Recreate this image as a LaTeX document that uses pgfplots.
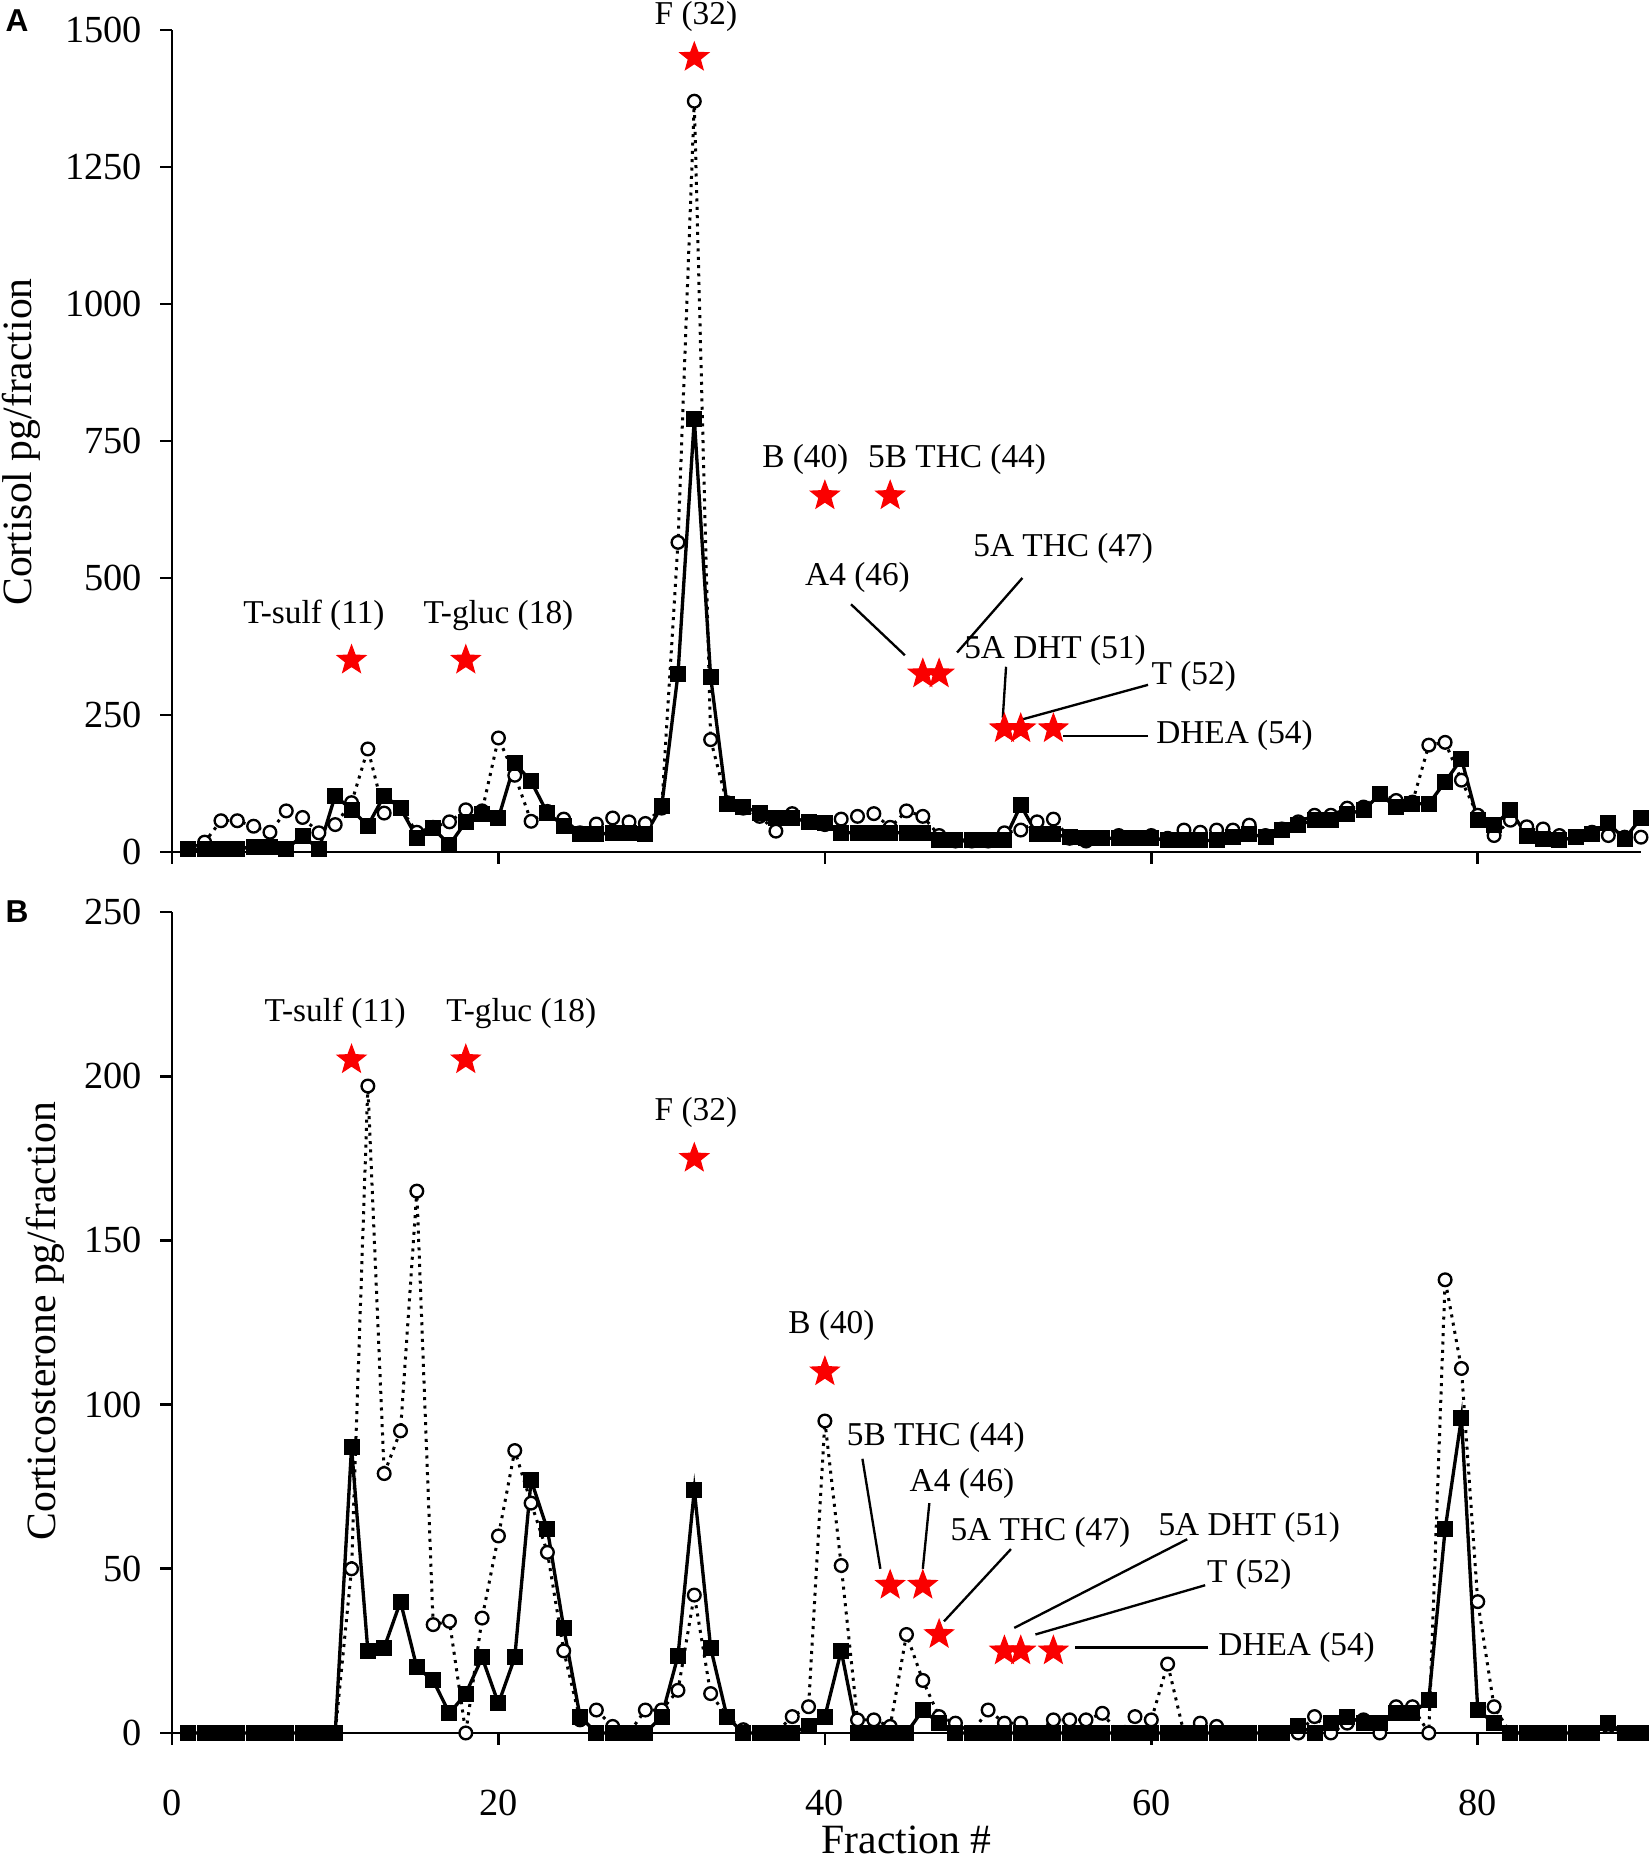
\documentclass[border=0pt]{standalone}
\usepackage{fontspec}
\setmainfont{Liberation Serif}
\newfontfamily\panelfont{Liberation Sans}
\usepackage{pgfplots}
\pgfplotsset{compat=1.18}
\definecolor{starred}{RGB}{250,0,0}
\pgfdeclareplotmark{fstar}{%
 \pgfpathmoveto{\pgfpointpolar{90}{\pgfplotmarksize}}%
 \pgfpathlineto{\pgfpointpolar{126}{0.42\pgfplotmarksize}}%
 \pgfpathlineto{\pgfpointpolar{162}{\pgfplotmarksize}}%
 \pgfpathlineto{\pgfpointpolar{198}{0.42\pgfplotmarksize}}%
 \pgfpathlineto{\pgfpointpolar{234}{\pgfplotmarksize}}%
 \pgfpathlineto{\pgfpointpolar{270}{0.42\pgfplotmarksize}}%
 \pgfpathlineto{\pgfpointpolar{306}{\pgfplotmarksize}}%
 \pgfpathlineto{\pgfpointpolar{342}{0.42\pgfplotmarksize}}%
 \pgfpathlineto{\pgfpointpolar{18}{\pgfplotmarksize}}%
 \pgfpathlineto{\pgfpointpolar{54}{0.42\pgfplotmarksize}}%
 \pgfpathclose
 \pgfusepathqfillstroke
}
\tikzset{lead/.style={black, line width=0.7pt}}
\pgfplotsset{
 panel/.style={scale only axis, width=440.7pt, height=246.6pt,
  xmin=0, xmax=90, ymin=0,
  axis lines*=left, axis line style={line width=0.8pt,-},
  tick align=outside, major tick length=3.5pt,
  tick style={line width=0.8pt, black},
  xtick={0,20,...,80}, clip=false,
  tick label style={font=\fontsize{11.5}{12}\selectfont},
  yticklabel style={xshift=-2pt},
  /pgf/number format/assume math mode=true,
  /pgf/number format/1000 sep={},
  every node/.append style={font=\fontsize{10.5}{12}\selectfont}},
 dotser/.style={black, line width=0.9pt, dash pattern=on 0.9pt off 1.6pt,
  mark=*, mark size=1.9pt, mark options={solid, fill=white, draw=black, line width=0.7pt}},
 solser/.style={black, line width=1.0pt, mark=square*, mark size=1.9pt, mark options={solid}},
 starser/.style={only marks, mark=fstar, mark size=4.4pt, color=starred}
}
\begin{document}
\begin{tikzpicture}
\useasboundingbox (0,0) rectangle (495pt,558.3pt);
% ---------------- Panel A ----------------
\begin{axis}[panel, at={(51.6pt,302.7pt)}, anchor=south west,
  ymax=1500, ytick={0,250,...,1500}, xticklabels={}]
\addplot[dotser] coordinates {
(1,5)(2,18)(3,57)(4,57)(5,47)(6,36)(7,75)(8,63)(9,35)(10,50)
(11,90)(12,188)(13,71)(14,80)(15,36)(16,45)(17,55)(18,77)(19,75)(20,208)
(21,140)(22,56)(23,74)(24,60)(25,35)(26,51)(27,62)(28,55)(29,52)(30,80)
(31,565)(32,1370)(33,205)(34,90)(35,80)(36,65)(37,38)(38,70)(39,55)(40,50)
(41,60)(42,65)(43,70)(44,45)(45,75)(46,65)(47,30)(48,20)(49,20)(50,20)
(51,35)(52,40)(53,55)(54,60)(55,25)(56,20)(57,25)(58,30)(59,25)(60,30)
(61,25)(62,40)(63,36)(64,40)(65,40)(66,49)(67,30)(68,42)(69,55)(70,67)
(71,67)(72,80)(73,82)(74,106)(75,94)(76,91)(77,195)(78,200)(79,131)(80,67)
(81,30)(82,58)(83,46)(84,42)(85,30)(86,27)(87,36)(88,30)(89,27)(90,27)};
\addplot[solser] coordinates {
(1,5)(2,5)(3,5)(4,5)(5,10)(6,10)(7,5)(8,30)(9,5)(10,103)
(11,77)(12,48)(13,103)(14,80)(15,26)(16,43)(17,13)(18,55)(19,70)(20,62)
(21,162)(22,129)(23,71)(24,48)(25,32)(26,32)(27,35)(28,35)(29,32)(30,83)
(31,325)(32,790)(33,320)(34,87)(35,82)(36,72)(37,62)(38,62)(39,55)(40,52)
(41,35)(42,35)(43,35)(44,35)(45,35)(46,35)(47,22)(48,22)(49,22)(50,22)
(51,22)(52,85)(53,32)(54,32)(55,27)(56,25)(57,25)(58,25)(59,25)(60,25)
(61,22)(62,21)(63,21)(64,21)(65,27)(66,33)(67,27)(68,40)(69,50)(70,58)
(71,58)(72,70)(73,76)(74,105)(75,82)(76,88)(77,88)(78,128)(79,170)(80,58)
(81,49)(82,76)(83,30)(84,24)(85,21)(86,27)(87,33)(88,52)(89,24)(90,62)};
\addplot[starser] coordinates {(11,350)(18,350)(32,1450)(40,650)(44,650)(46,325)(47,325)(51,225)(52,225)(54,225)};
\node at (axis cs:8.7,431) {T-sulf (11)};
\node at (axis cs:20,431) {T-gluc (18)};
\node at (axis cs:32.1,1524) {F (32)};
\node at (axis cs:38.8,716) {B (40)};
\node at (axis cs:48.1,716) {5B THC (44)};
\node at (axis cs:42,500) {A4 (46)};
\node at (axis cs:54.6,554) {5A THC (47)};
\node at (axis cs:54.1,368) {5A DHT (51)};
\node at (axis cs:62.6,320) {T (52)};
\node at (axis cs:65.1,212) {DHEA (54)};
\draw[lead] (axis cs:41.6,452) -- (axis cs:44.9,359);
\draw[lead] (axis cs:52.1,500) -- (axis cs:48.1,364);
\draw[lead] (axis cs:51.1,338) -- (axis cs:50.9,245);
\draw[lead] (axis cs:59.8,305) -- (axis cs:52.1,242);
\draw[lead] (axis cs:59.8,212) -- (axis cs:54.6,212);
\end{axis}
% ---------------- Panel B ----------------
\begin{axis}[panel, at={(51.6pt,38.4pt)}, anchor=south west, height=246.3pt,
  ymax=250, ytick={0,50,...,250}, xticklabel style={yshift=-10pt}]
\addplot[dotser] coordinates {
(1,0)(2,0)(3,0)(4,0)(5,0)(6,0)(7,0)(8,0)(9,0)(10,0)
(11,50)(12,197)(13,79)(14,92)(15,165)(16,33)(17,34)(18,0)(19,35)(20,60)
(21,86)(22,70)(23,55)(24,25)(25,4)(26,7)(27,2)(28,0)(29,7)(30,7)
(31,13)(32,42)(33,12)(34,5)(35,1)(36,0)(37,0)(38,5)(39,8)(40,95)
(41,51)(42,4)(43,4)(44,2)(45,30)(46,16)(47,5)(48,3)(49,0)(50,7)
(51,3)(52,3)(53,0)(54,4)(55,4)(56,4)(57,6)(58,0)(59,5)(60,4)
(61,21)(62,0)(63,3)(64,2)(65,0)(66,0)(67,0)(68,0)(69,0)(70,5)
(71,0)(72,3)(73,4)(74,0)(75,8)(76,8)(77,0)(78,138)(79,111)(80,40)
(81,8)(82,0)(83,0)(84,0)(85,0)(86,0)(87,0)(88,2)(89,0)(90,0)};
\addplot[solser] coordinates {
(1,0)(2,0)(3,0)(4,0)(5,0)(6,0)(7,0)(8,0)(9,0)(10,0)
(11,87)(12,25)(13,26)(14,40)(15,20)(16,16)(17,6)(18,12)(19,23)(20,9)
(21,23)(22,77)(23,62)(24,32)(25,5)(26,0)(27,0)(28,0)(29,0)(30,5)
(31,23.5)(32,74)(33,26)(34,5)(35,0)(36,0)(37,0)(38,0)(39,2)(40,5)
(41,25)(42,0)(43,0)(44,0)(45,0)(46,7)(47,3)(48,0)(49,0)(50,0)
(51,0)(52,0)(53,0)(54,0)(55,0)(56,0)(57,0)(58,0)(59,0)(60,0)
(61,0)(62,0)(63,0)(64,0)(65,0)(66,0)(67,0)(68,0)(69,2)(70,0)
(71,3)(72,5)(73,3)(74,3)(75,6)(76,6)(77,10)(78,62)(79,96)(80,7)
(81,3)(82,0)(83,0)(84,0)(85,0)(86,0)(87,0)(88,3)(89,0)(90,0)};
\addplot[starser] coordinates {(11,205)(18,205)(32,175)(40,110)(44,45)(46,45)(47,30)(51,25)(52,25)(54,25)};
\node at (axis cs:10,219) {T-sulf (11)};
\node at (axis cs:21.4,219) {T-gluc (18)};
\node at (axis cs:32.1,189) {F (32)};
\node at (axis cs:40.4,124) {B (40)};
\node at (axis cs:46.8,90) {5B THC (44)};
\node at (axis cs:48.4,76) {A4 (46)};
\node at (axis cs:53.2,61) {5A THC (47)};
\node at (axis cs:66,62.5) {5A DHT (51)};
\node at (axis cs:66,48.4) {T (52)};
\node at (axis cs:68.9,26) {DHEA (54)};
\draw[lead] (axis cs:42.3,83.5) -- (axis cs:43.4,50);
\draw[lead] (axis cs:46.4,70) -- (axis cs:46,50);
\draw[lead] (axis cs:51.4,56) -- (axis cs:47.3,34);
\draw[lead] (axis cs:62.2,59) -- (axis cs:51.6,32);
\draw[lead] (axis cs:63.3,45) -- (axis cs:52.9,30);
\draw[lead] (axis cs:63.5,26) -- (axis cs:55.3,26);
\end{axis}
% ---------------- outer labels ----------------
\node[rotate=90, font=\fontsize{12.5}{14}\selectfont] at (6.4pt,425.7pt) {Cortisol pg/fraction};
\node[rotate=90, font=\fontsize{12.5}{14}\selectfont] at (13.5pt,161.9pt) {Corticosterone pg/fraction};
\node[font=\fontsize{12.5}{14}\selectfont, anchor=south, inner sep=0pt] at (272pt,2pt) {Fraction \#};
\node[font=\panelfont\bfseries\fontsize{9.5}{11}\selectfont] at (5.1pt,552pt) {A};
\node[font=\panelfont\bfseries\fontsize{9.5}{11}\selectfont] at (5.1pt,284.7pt) {B};
\end{tikzpicture}
\end{document}
